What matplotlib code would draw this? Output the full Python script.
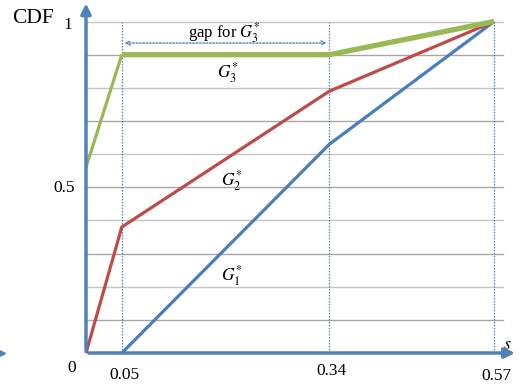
import matplotlib
matplotlib.use('Agg')
import matplotlib.pyplot as plt

# breakpoints on the s axis
s_ticks = [0.05, 0.34, 0.57]
s_labels = ['0.05', '0.34', '0.57']

# CDF curves
g1_s = [0.05, 0.34, 0.57]
g1_cdf = [0.0, 0.63, 1.0]
g2_s = [0.0, 0.05, 0.34, 0.57]
g2_cdf = [0.0, 0.38, 0.79, 1.0]
g3_s = [0.0, 0.05, 0.34, 0.57]
g3_cdf = [0.56, 0.90, 0.90, 1.0]

grid_levels = [0.1, 0.2, 0.3, 0.4, 0.5, 0.6, 0.7, 0.8, 0.9, 1.0]

plt.rcParams['font.family'] = ['Liberation Serif', 'DejaVu Serif']
plt.rcParams['mathtext.fontset'] = 'stix'

blue = '#4a7ebb'
red = '#be4b48'
green = '#98b954'
axblue = '#4f81bd'

fig = plt.figure(figsize=(5.19, 3.90), dpi=100)
ax = fig.add_axes([0, 0, 1, 1])
ax.set_xlim(-0.1201, 0.6047)
ax.set_ylim(-0.1116, 1.0649)
ax.axis('off')

# horizontal grid, alternating shades
for i, g in enumerate(grid_levels):
  col = '#a6a6a6' if i % 2 == 0 else '#c4c4c4'
  ax.plot([0, 0.582], [g, g], color=col, lw=1.0, zorder=1)

# dotted verticals at breakpoints
for s in s_ticks:
  ax.plot([s, s], [0, 1.0], color=axblue, lw=0.9, ls=(0, (1.2, 1.2)), zorder=2)

# curves
ax.plot(g1_s, g1_cdf, color=blue, lw=2.3, zorder=4, solid_capstyle='butt')
ax.plot(g2_s, g2_cdf, color=red, lw=2.3, zorder=4, solid_capstyle='butt')
ax.plot(g3_s[:2], g3_cdf[:2], color=green, lw=2.3, zorder=4, solid_capstyle='butt')
ax.plot(g3_s[1:], g3_cdf[1:], color=green, lw=3.8, zorder=4, solid_capstyle='butt')

# axes with arrows
ax.annotate('', xy=(0, 1.063), xytext=(0, 0),
            arrowprops=dict(arrowstyle='-|>,head_length=0.6,head_width=0.3',
                            color=axblue, lw=2.5), zorder=5)
ax.annotate('', xy=(0.603, 0), xytext=(0, 0),
            arrowprops=dict(arrowstyle='-|>,head_length=0.6,head_width=0.3',
                            color=axblue, lw=2.5), zorder=5)
ax.plot([-0.1175], [0], marker='>', color=axblue, ms=5, zorder=5)

# gap arrow
ax.annotate('', xy=(0.34, 0.935), xytext=(0.05, 0.935),
            arrowprops=dict(arrowstyle='<->,head_length=0.3,head_width=0.15',
                            color=axblue, lw=1.0, ls=(0, (1.2, 1.2))))
ax.text(0.193, 0.968, 'gap for $G_3^{*}$', ha='center', va='center', fontsize=12)

# curve labels
ax.text(0.198, 0.846, '$G_3^{*}$', ha='center', va='center', fontsize=12.5)
ax.text(0.203, 0.52, '$G_2^{*}$', ha='center', va='center', fontsize=12.5)
ax.text(0.203, 0.235, '$G_1^{*}$', ha='center', va='center', fontsize=12.5)

# axis labels and ticks
ax.text(-0.074, 1.01, 'CDF', ha='center', va='center', fontsize=15.5)
ax.text(-0.026, 0.99, '1', ha='center', va='center', fontsize=12.5)
ax.text(-0.030, 0.497, '0.5', ha='center', va='center', fontsize=12.5)
ax.text(-0.02, -0.045, '0', ha='center', va='center', fontsize=12.5)
for s, lab, dy in zip(s_ticks, s_labels, [-0.066, -0.055, -0.07]):
  ax.text(s + 0.003, dy, lab, ha='center', va='center', fontsize=12.5)
ax.text(0.588, 0.027, '$s$', ha='center', va='center', fontsize=13)

fig.savefig('out.png', dpi=100)
